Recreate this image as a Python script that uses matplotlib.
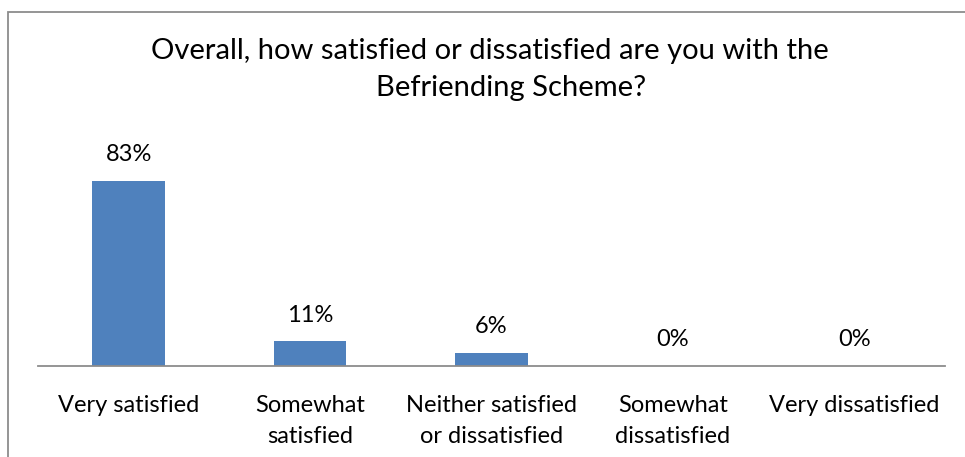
import matplotlib
matplotlib.use("Agg")
import matplotlib.pyplot as plt
from matplotlib.patches import Rectangle

categories = ["Very satisfied", "Somewhat\nsatisfied", "Neither satisfied\nor dissatisfied",
              "Somewhat\ndissatisfied", "Very dissatisfied"]
values = [83, 11, 6, 0, 0]
title_lines = ["Overall, how satisfied or dissatisfied are you with the", "Befriending Scheme?"]

plt.rcParams["font.family"] = ["Lato", "DejaVu Sans"]

W, H = 965, 457
fig = plt.figure(figsize=(W / 100, H / 100), dpi=100)

# chart frame (runs off the right and bottom edges)
fig.add_artist(Rectangle((8 / W, -0.1), 1.2, 1 - 12 / H + 0.1, transform=fig.transFigure,
                         fill=False, edgecolor="#8c8c8c", linewidth=1.3))

ymax = 90
left, right, bottom = 38, 945, 366
top = bottom - ymax * 2.23
ax = fig.add_axes([left / W, 1 - bottom / H, (right - left) / W, (bottom - top) / H])

x = range(len(values))
ax.bar(x, values, width=0.4, color="#4F81BD")
ax.set_xlim(-0.5, len(values) - 0.5)
ax.set_ylim(0, ymax)

for xi, v in zip(x, values):
    ax.annotate(f"{v}%", (xi, v), xytext=(0, 19), textcoords="offset points",
                ha="center", va="center", fontsize=17, color="#000000")

for s in ["top", "left", "right"]:
    ax.spines[s].set_visible(False)
ax.spines["bottom"].set_color("#8c8c8c")
ax.spines["bottom"].set_linewidth(1.3)
ax.set_yticks([])
ax.set_xticks(list(x))
ax.set_xticklabels(categories, fontsize=17, linespacing=1.55)
ax.tick_params(axis="x", length=0, pad=21)

fig.text(490 / W, 1 - 51 / H, title_lines[0], ha="center", va="center", fontsize=21)
fig.text(511 / W, 1 - 88 / H, title_lines[1], ha="center", va="center", fontsize=21)

fig.savefig("out.png", dpi=100)
